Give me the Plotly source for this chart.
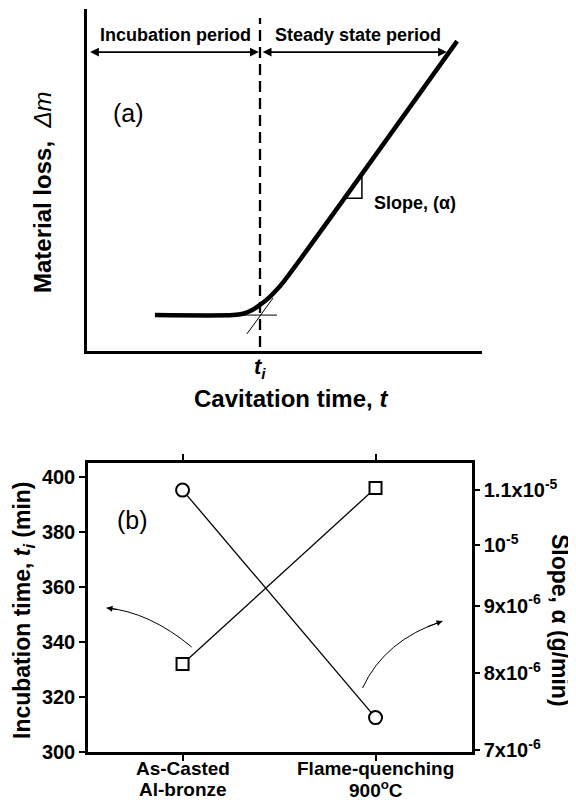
import math
import plotly.graph_objects as go

FONT = "Liberation Sans, Arial, sans-serif"
# the page body adds an 8px margin, so the figure is 16px smaller than the window
OFF = 8
W, H = 576 - 2 * OFF, 807 - 2 * OFF

# ---------------- data ----------------
# (a) schematic material-loss curve (arbitrary units, 0-100 on both axes)
curve_t = [17.2, 37.0, 39.5, 41.7, 43.8, 45.8, 47.8, 50.0, 93.7]
curve_m = [10.5, 10.5, 10.9, 11.9, 13.5, 15.3, 17.6, 20.6, 90.6]
t_incubation = 43.8
flat_level = 10.5

# (b) measured values
categories = ["As-Casted<br>Al-bronze", "Flame-quenching<br>900<sup>o</sup>C"]
cat_pos = [0, 1]
incubation_time = [332, 396]          # min, left axis
slope_alpha = [1.10e-5, 7.41e-6]      # g/min, right axis (log)

left_ticks = [300, 320, 340, 360, 380, 400]
right_tickvals = [7e-6, 8e-6, 9e-6, 1e-5, 1.1e-5]
right_ticktext = ["7x10<sup>-6</sup>", "8x10<sup>-6</sup>", "9x10<sup>-6</sup>",
                  "10<sup>-5</sup>", "1.1x10<sup>-5</sup>"]


def px_x(p):
    return (p - OFF) / W


def px_y(p):
    return 1 - (p - OFF) / H


fig = go.Figure()

# ---------------- panel (a) ----------------
fig.add_trace(go.Scatter(
    x=curve_t, y=curve_m, mode="lines", xaxis="x3", yaxis="y3",
    line=dict(color="black", width=4.5, shape="spline", smoothing=0.8),
    hoverinfo="skip", showlegend=False))

# ---------------- panel (b) ----------------
fig.add_trace(go.Scatter(
    x=cat_pos, y=incubation_time, mode="lines+markers", xaxis="x", yaxis="y",
    line=dict(color="black", width=1.3),
    marker=dict(symbol="square", size=12, color="white",
                line=dict(color="black", width=2)),
    showlegend=False))
fig.add_trace(go.Scatter(
    x=cat_pos, y=slope_alpha, mode="lines+markers", xaxis="x", yaxis="y2",
    line=dict(color="black", width=1.3),
    marker=dict(symbol="circle", size=13, color="white",
                line=dict(color="black", width=2)),
    showlegend=False))

shapes = []
annotations = []

# dashed incubation line
shapes.append(dict(type="line", xref="x3", yref="y3",
                   x0=t_incubation, x1=t_incubation, y0=1.2, y1=97.4,
                   line=dict(color="black", width=2.3, dash="11px,6px")))
# thin construction lines
shapes.append(dict(type="line", xref="x3", yref="y3",
                   x0=37.5, x1=48.1, y0=flat_level, y1=flat_level,
                   line=dict(color="black", width=1)))
shapes.append(dict(type="line", xref="x3", yref="y3",
                   x0=40.5, x1=47.1, y0=5.0, y1=15.5,
                   line=dict(color="black", width=1)))
# slope triangle
shapes.append(dict(type="path", xref="x3", yref="y3",
                   path="M 69.6,50.9 L 69.6,44.7 L 65.8,44.7",
                   line=dict(color="black", width=1.5)))

# period arrows
for x_head, x_tail in [(43.5, 0.4), (91.1, 44.1)]:
    annotations.append(dict(
        x=x_head, y=87.4, ax=x_tail, ay=87.4, xref="x3", yref="y3",
        axref="x3", ayref="y3", text="", showarrow=True,
        arrowhead=2, arrowside="end+start", arrowsize=1.1, arrowwidth=1.6,
        arrowcolor="black", standoff=0, startstandoff=0))


def txt(x, y, text, size, xref="paper", yref="paper", angle=0, xanchor="center"):
    return dict(x=x, y=y, xref=xref, yref=yref, text=text, showarrow=False,
                textangle=angle, xanchor=xanchor, yanchor="middle",
                font=dict(family=FONT, size=size, color="black"))


annotations += [
    txt(22.5, 92.4, "<b>Incubation period</b>", 18, "x3", "y3"),
    txt(68.5, 92.4, "<b>Steady state period</b>", 18, "x3", "y3"),
    txt(10.6, 69.6, "(a)", 25, "x3", "y3"),
    txt(72.2, 43.3, "<b>Slope, (α)</b>", 18, "x3", "y3", xanchor="left"),
    txt(t_incubation, px_y(368), "<b><i>t<sub>i</sub></i></b>", 22, "x3", "paper"),
    txt(px_x(291), px_y(398), "<b>Cavitation time, <i>t</i></b>", 24),
    txt(px_x(42), px_y(192), "<b>Material loss,</b>  <i>Δm</i>", 24, angle=-90),
    # panel (b)
    txt(-0.259, 384.4, "(b)", 25, "x", "y"),
    txt(px_x(23), px_y(610), "<b>Incubation time, <i>t<sub>i</sub></i> (min)</b>", 23,
        angle=-90),
    txt(px_x(560), px_y(620), "<b>Slope, α (g/min)</b>", 23, angle=90),
]

# category labels (two lines each) under the bottom axis
for pos, label in zip(cat_pos, categories):
    first, second = label.split("<br>")
    annotations.append(txt(pos, px_y(768), f"<b>{first}</b>", 19, "x", "paper"))
    annotations.append(txt(pos, px_y(789), f"<b>{second}</b>", 19, "x", "paper"))


# curved pointer arrows in panel (b)
def bez(p0, c, p2, t):
    return tuple((1 - t) ** 2 * a + 2 * t * (1 - t) * b + t ** 2 * d
                 for a, b, d in zip(p0, c, p2))


for p0, c, p2 in [((0.047, 338.2), (-0.171, 350.9), (-0.394, 352.4)),
                  ((0.933, 323.3), (1.047, 340.7), (1.347, 347.6))]:
    shapes.append(dict(type="path", xref="x", yref="y",
                       path=f"M {p0[0]},{p0[1]} Q {c[0]},{c[1]} {p2[0]},{p2[1]}",
                       line=dict(color="black", width=1)))
    tail = bez(p0, c, p2, 0.85)
    annotations.append(dict(x=p2[0], y=p2[1], ax=tail[0], ay=tail[1],
                            xref="x", yref="y", axref="x", ayref="y", text="",
                            showarrow=True, arrowhead=2, arrowsize=1.2,
                            arrowwidth=1, arrowcolor="black", standoff=0))

axis_common = dict(showgrid=False, zeroline=False, linecolor="black",
                   tickcolor="black")
tickfont = dict(family=FONT, size=20, weight="bold", color="black")

fig.update_layout(
    width=W, height=H, margin=dict(l=0, r=0, t=0, b=0),
    template="none", paper_bgcolor="white", plot_bgcolor="white",
    font=dict(family=FONT, color="black"),
    showlegend=False,
    shapes=shapes, annotations=annotations,
    # panel (a)
    xaxis3=dict(domain=[px_x(87), px_x(482)], anchor="y3", range=[0, 100],
                showline=True, linewidth=3, ticks="", showticklabels=False,
                **axis_common),
    yaxis3=dict(domain=[px_y(351), px_y(9)], anchor="x3", range=[0, 100],
                showline=True, linewidth=3, ticks="", showticklabels=False,
                **axis_common),
    # panel (b)
    xaxis=dict(domain=[px_x(88), px_x(472)], anchor="y", range=[-0.49, 1.5],
               tickmode="array", tickvals=cat_pos, showticklabels=False,
               ticks="outside", ticklen=6, tickwidth=2,
               showline=True, linewidth=2.5, mirror="allticks",
               **axis_common),
    yaxis=dict(domain=[px_y(752), px_y(463)], anchor="x", range=[300, 405.1],
               tickmode="array", tickvals=left_ticks,
               ticks="outside", ticklen=6, tickwidth=2,
               showline=True, linewidth=2.5,
               tickfont=tickfont, **axis_common),
    yaxis2=dict(overlaying="y", side="right", anchor="x", type="log",
                range=[math.log10(6.98e-6), math.log10(1.153e-5)],
                tickmode="array", tickvals=right_tickvals, ticktext=right_ticktext,
                ticks="outside", ticklen=5, tickwidth=2,
                showline=True, linewidth=2.5,
                tickfont=tickfont, **axis_common),
)

fig.write_html("out.html")
